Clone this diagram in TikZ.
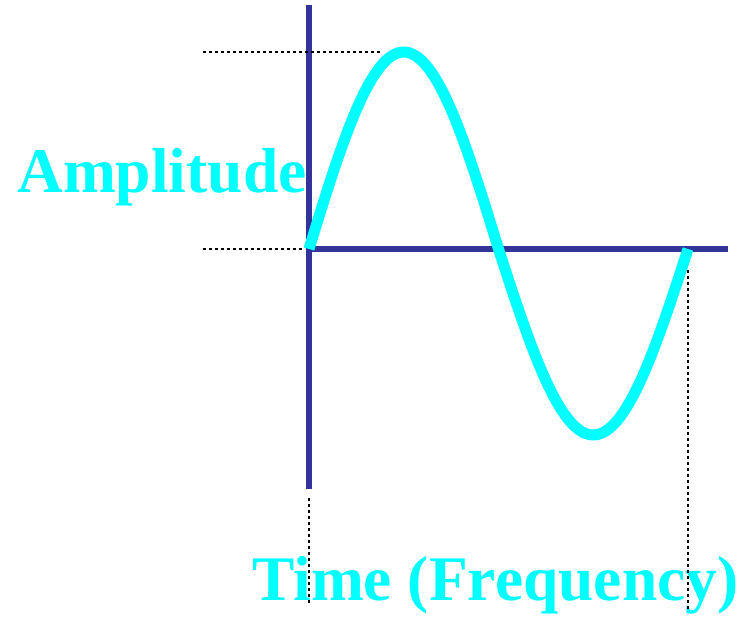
\documentclass[tikz,border=0pt]{standalone}
\usepackage{fontspec}
\setmainfont{Liberation Serif}
\usepackage{tikz}
\usetikzlibrary{positioning, calc}
\definecolor{cAxis}{RGB}{51,51,153}
\definecolor{cWave}{RGB}{0,255,255}
\tikzset{
    axisline/.style={draw=cAxis, line width=6pt},
    wave/.style    ={draw=cWave, line width=11pt, line join=round},
    guide/.style   ={draw=black, line width=2.6pt, dash pattern=on 3pt off 3pt},
    bigtext/.style ={text=cWave, inner sep=0pt, font=\fontsize{63.5}{70}\bfseries\selectfont},
}

\begin{document}
\begin{tikzpicture}[x=1pt, y=-1pt]
        \useasboundingbox (0,0) rectangle (755,616);
        % labels
        \node[bigtext, anchor=base west] (amp) at (17,192) {Amplitude};
        \node[bigtext, anchor=base west] (time) at (252,600) {Time (Frequency)};

        % axes
        \coordinate (origin) at (309,249);
        \coordinate (ytop) at (309,5);
        \coordinate (ybot) at (309,489);
        \coordinate (xend) at (728,249);
        \draw[axisline] (ytop) -- (ybot);
        \draw[axisline] (origin) -- (xend);

        % guide lines
        \coordinate (peakL) at (203,52);
        \coordinate (peakR) at (380,52);
        \coordinate (zeroL) at (203,249);
        \coordinate (zeroR) at (305,249);
        \coordinate (startT) at (309,498);
        \coordinate (startB) at (309,605);
        \coordinate (endT) at (688,270);
        \coordinate (endB) at (688,610);
        \draw[guide] (peakL) -- (peakR);
        \draw[guide] (zeroL) -- (zeroR);
        \draw[guide] (startT) -- (startB);
        \draw[guide] (endT) -- (endB);

        % sine wave
        \draw[wave] plot[domain=0:180, samples=60, smooth] ({309+\x/360*379}, {249-197*sin(\x)})
                 -- plot[domain=180:360, samples=60, smooth] ({309+\x/360*379}, {249-186*sin(\x)});
    \end{tikzpicture}
\end{document}
